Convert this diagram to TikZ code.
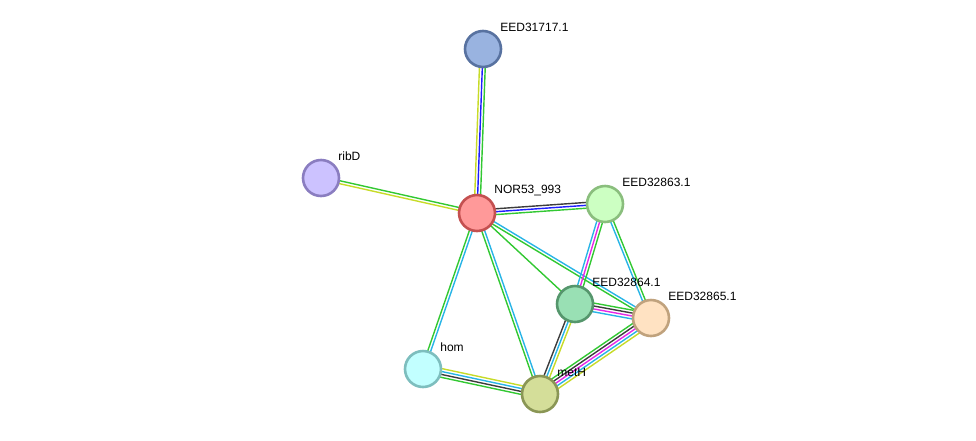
\documentclass[tikz,border=0pt]{standalone}
\usepackage{fontspec}
\setmainfont{Liberation Sans}
\usetikzlibrary{calc, backgrounds}

% evidence colours
\definecolor{txtm}{RGB}{199,219,40}
\definecolor{coexp}{RGB}{60,60,60}
\definecolor{expr}{RGB}{230,40,230}
\definecolor{dbase}{RGB}{40,180,230}
\definecolor{nbhd}{RGB}{50,200,50}
\definecolor{cooc}{RGB}{30,30,255}

% one link = a bundle of parallel lines, listed left to right going #1 -> #2
\newcommand{\linkedge}[3]{%
  \foreach \c [count=\k] in {#3} {\xdef\nlines{\k}}
  \foreach \c [count=\k from 0] in {#3} {
    \pgfmathsetmacro{\edgeoff}{((\nlines-1)/2-\k)*2.9}
    \draw[\c, line width=1.4pt] ($(#1)!\edgeoff pt!90:(#2)$) -- ($(#2)!\edgeoff pt!-90:(#1)$);
  }%
}

\begin{document}
\begin{tikzpicture}[
    x=1pt, y=-1pt,
    prot/.style={circle, line width=2.6pt, minimum size=36pt, inner sep=0pt},
    lbl/.style={inner sep=0pt, font=\fontsize{12}{14}\selectfont},
    label distance=5pt
]
\useasboundingbox (0,0) rectangle (976,440);

% proteins
\node[prot, fill={rgb,255:red,255;green,153;blue,153}, draw={rgb,255:red,196;green,80;blue,80},
      label={[lbl]45:NOR53\_993}] (nor) at (477,213) {};
\node[prot, fill={rgb,255:red,153;green,179;blue,224}, draw={rgb,255:red,88;green,114;blue,160},
      label={[lbl]45:EED31717.1}] (e31717) at (483,49) {};
\node[prot, fill={rgb,255:red,204;green,194;blue,255}, draw={rgb,255:red,138;green,125;blue,192},
      label={[lbl]45:ribD}] (ribd) at (321,178) {};
\node[prot, fill={rgb,255:red,204;green,255;blue,194}, draw={rgb,255:red,138;green,190;blue,125},
      label={[lbl]45:EED32863.1}] (e32863) at (605,204) {};
\node[prot, fill={rgb,255:red,153;green,224;blue,180}, draw={rgb,255:red,85;green,150;blue,108},
      label={[lbl]45:EED32864.1}] (e32864) at (575,304) {};
\node[prot, fill={rgb,255:red,255;green,226;blue,194}, draw={rgb,255:red,192;green,162;blue,125},
      label={[lbl]45:EED32865.1}] (e32865) at (651,318) {};
\node[prot, fill={rgb,255:red,194;green,255;blue,255}, draw={rgb,255:red,125;green,190;blue,190},
      label={[lbl]45:hom}] (hom) at (423,369) {};
\node[prot, fill={rgb,255:red,212;green,222;blue,153}, draw={rgb,255:red,138;green,150;blue,85},
      label={[lbl]45:metH}] (meth) at (540,394) {};

% links
\begin{scope}[on background layer]
\linkedge{nor}{e31717}{txtm,cooc,nbhd}
\linkedge{nor}{ribd}{txtm,nbhd}
\linkedge{nor}{e32863}{coexp,cooc,nbhd}
\linkedge{nor}{e32864}{nbhd}
\linkedge{nor}{e32865}{dbase,nbhd}
\linkedge{nor}{hom}{dbase,nbhd}
\linkedge{nor}{meth}{dbase,nbhd}
\linkedge{e32863}{e32864}{nbhd,expr,dbase}
\linkedge{e32863}{e32865}{nbhd,dbase}
\linkedge{e32864}{e32865}{nbhd,coexp,expr,dbase}
\linkedge{e32864}{meth}{txtm,dbase,coexp}
\linkedge{e32865}{meth}{txtm,dbase,expr,coexp,nbhd}
\linkedge{hom}{meth}{txtm,dbase,coexp,nbhd}
\end{scope}

\end{tikzpicture}
\end{document}
